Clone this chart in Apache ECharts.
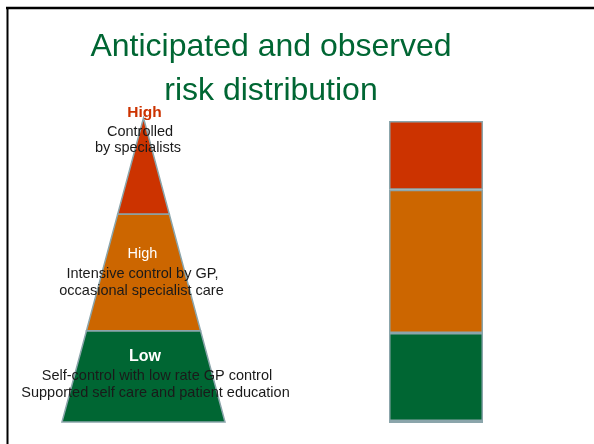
<!DOCTYPE html>
<html>
<head>
<meta charset="utf-8">
<script src="https://cdn.jsdelivr.net/npm/echarts@6/dist/echarts.min.js"></script>
<style>
    html, body { margin: 0; padding: 0; background: #ffffff; }
    #chart { width: 594px; height: 444px; }
</style>
</head>
<body>
<div id="chart"></div>
<script>
// anticipated risk pyramid: cumulative height share, bottom to top
const pyramidLevels = ['Low', 'High', 'High (specialists)'];
const pyramidBounds = [0, 30, 68.4, 100];
// observed distribution, stacked bottom to top (%)
const observedLevels = ['Other', 'Low', 'High', 'High (specialists)'];
const observedValues = [0.7, 29.1, 47.4, 22.8];

const levelColors = {
    'Other': '#cc6600',
    'Low': '#006633',
    'High': '#cc6600',
    'High (specialists)': '#cc3300'
};
const edgeColor = '#8ba5ab';
const font = "'Liberation Sans', Arial, sans-serif";

let pyramidData = pyramidLevels.map(function (name, i) {
    return { name: name, value: [pyramidBounds[i], pyramidBounds[i + 1]] };
});

let observedSeries = observedLevels.map(function (name, i) {
    let data = [];
    data.push(observedValues[i]);
    return {
        name: name + ' ' + i,
        type: 'bar',
        stack: 'observed',
        xAxisIndex: 1,
        yAxisIndex: 1,
        barWidth: '100%',
        data: data,
        itemStyle: {
            color: levelColors[name],
            borderColor: edgeColor,
            borderWidth: 1.5
        }
    };
});

function label(text, x, y, size, color, bold) {
    return {
        type: 'text',
        x: x,
        y: y,
        style: {
            text: text,
            fill: color,
            font: (bold ? 'bold ' : '') + size + 'px ' + font,
            align: 'center',
            verticalAlign: 'middle'
        },
        z: 10
    };
}

let option = {
    animation: false,
    title: {
        text: 'Anticipated and observed\nrisk distribution',
        left: 266,
        top: 20,
        textAlign: 'center',
        textStyle: {
            color: '#006633',
            fontFamily: font,
            fontSize: 32,
            fontWeight: 'normal',
            lineHeight: 44
        }
    },
    grid: [
        { left: 62, top: 118, width: 163, height: 304 },
        { left: 389, top: 121, width: 94, height: 302 }
    ],
    xAxis: [
        { gridIndex: 0, type: 'value', min: -1, max: 1, show: false },
        { gridIndex: 1, type: 'category', data: ['Observed'], show: false }
    ],
    yAxis: [
        { gridIndex: 0, type: 'value', min: 0, max: 100, show: false },
        { gridIndex: 1, type: 'value', min: 0, max: 100, show: false }
    ],
    series: [
        {
            type: 'custom',
            xAxisIndex: 0,
            yAxisIndex: 0,
            data: pyramidData,
            clip: false,
            renderItem: function (params, api) {
                let y0 = api.value(0);
                let y1 = api.value(1);
                let w0 = 1 - y0 / 100;
                let w1 = 1 - y1 / 100;
                let pts = [[-w0, y0], [w0, y0], [w1, y1], [-w1, y1]].map(function (p) {
                    return api.coord(p);
                });
                return {
                    type: 'polygon',
                    shape: { points: pts },
                    style: {
                        fill: levelColors[pyramidLevels[params.dataIndex]],
                        stroke: edgeColor,
                        lineWidth: 1.5
                    }
                };
            }
        }
    ].concat(observedSeries),
    graphic: [
        // slide frame (top and left edges only)
        { type: 'line', shape: { x1: 6, y1: 8, x2: 594, y2: 8 }, style: { stroke: '#000', lineWidth: 2.5 } },
        { type: 'line', shape: { x1: 7.5, y1: 7, x2: 7.5, y2: 444 }, style: { stroke: '#000', lineWidth: 2 } },

        label('High', 144.5, 113, 15.5, '#cc3300', true),
        label('Controlled', 140, 132, 14.5, '#1a1a1a', false),
        label('by specialists', 138, 148, 14.5, '#1a1a1a', false),

        label('High', 142.5, 254, 14.5, '#ffffff', false),
        label('Intensive control by GP,', 142.5, 274, 14.5, '#1a1a1a', false),
        label('occasional specialist care', 141.5, 291, 14.5, '#1a1a1a', false),

        label('Low', 145, 356.5, 16, '#ffffff', true),
        label('Self-control with low rate GP control', 157, 376, 14.5, '#1a1a1a', false),
        label('Supported self care and patient education', 155.5, 393, 14.5, '#1a1a1a', false)
    ]
};

let chart = echarts.init(document.getElementById('chart'));
chart.setOption(option);
window.onresize = chart.resize;
</script>
</body>
</html>
